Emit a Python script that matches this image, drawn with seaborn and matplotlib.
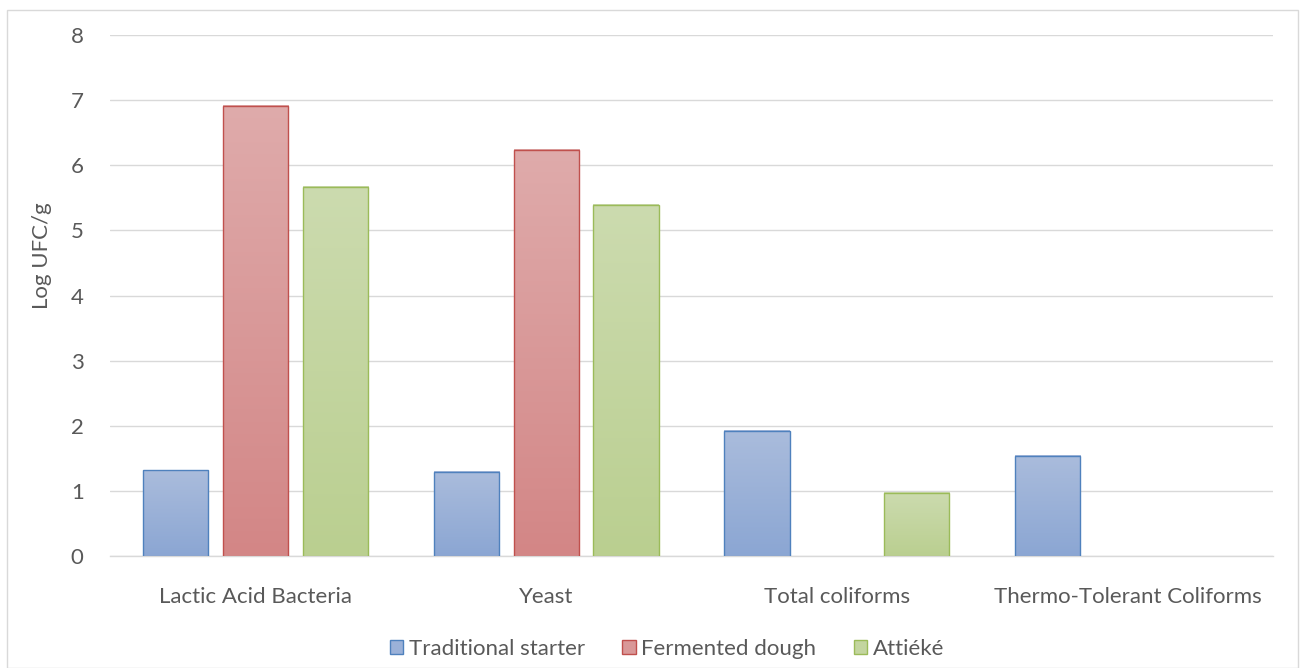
import numpy as np
import pandas as pd
import seaborn as sns
import matplotlib.pyplot as plt
from matplotlib.patches import Patch, Rectangle
from matplotlib.colors import LinearSegmentedColormap

categories = ["Lactic Acid Bacteria", "Yeast", "Total coliforms", "Thermo-Tolerant Coliforms"]
series = ["Traditional starter", "Fermented dough", "Attiéké"]
traditional_starter = [1.32, 1.29, 1.92, 1.54]
fermented_dough = [6.91, 6.24, 0.0, 0.0]
attieke = [5.67, 5.39, 0.97, 0.0]
y_ticks = [0, 1, 2, 3, 4, 5, 6, 7, 8]

top_colors = ["#aabcdc", "#dfabab", "#ccdbaf"]
bottom_colors = ["#8ba6d3", "#d38686", "#bacf90"]
mid_colors = ["#9bb1d8", "#d99898", "#c3d59f"]
edge_colors = ["#4f81bd", "#c0504d", "#9bbb59"]

rows = []
for name, vals in zip(series, [traditional_starter, fermented_dough, attieke]):
    for c, v in zip(categories, vals):
        rows.append({"category": c, "series": name, "value": v})
df = pd.DataFrame(rows)

sns.set_theme(style="white")
plt.rcParams['font.family'] = ['Lato', 'DejaVu Sans']
FS = 16

fig = plt.figure(figsize=(13.01, 6.68), dpi=100)
W, H = 1301, 668
ax = fig.add_axes([110 / W, (H - 556) / H, 1163 / W, 521 / H])

sns.barplot(data=df, x="category", y="value", hue="series", order=categories,
            hue_order=series, palette=mid_colors, width=0.825, gap=0.185,
            errorbar=None, legend=False, ax=ax)

grad = np.linspace(0, 1, 256).reshape(-1, 1)
for i, cont in enumerate(ax.containers):
    cmap = LinearSegmentedColormap.from_list(f"g{i}", [top_colors[i], bottom_colors[i]])
    for bar in cont:
        h = bar.get_height()
        if h <= 0:
            bar.set_visible(False)
            continue
        x0, w = bar.get_x(), bar.get_width()
        ax.imshow(grad, extent=[x0, x0 + w, 0, h], origin="upper", aspect="auto",
                  cmap=cmap, zorder=2, interpolation="bicubic")
        bar.set_facecolor("none")
        bar.set_edgecolor(edge_colors[i])
        bar.set_linewidth(1.0)
        bar.set_zorder(3)

ax.set_xlim(-0.5, 3.5)
ax.set_ylim(0, 8)
ax.set_yticks(y_ticks)
ax.yaxis.grid(True, color="#d9d9d9", linewidth=1.0)
ax.set_axisbelow(True)
for s in ["left", "right", "top"]:
    ax.spines[s].set_visible(False)
ax.spines["bottom"].set_color("#d9d9d9")
ax.spines["bottom"].set_linewidth(1.0)
ax.tick_params(axis="both", length=0, colors="#595959", labelsize=FS)
ax.tick_params(axis="y", pad=19)
ax.tick_params(axis="x", pad=22)
ax.set_xlabel("")
ax.set_ylabel("Log UFC/g", color="#595959", fontsize=FS)
ax.yaxis.set_label_coords(-0.05, 0.576)

handles = [Patch(facecolor=mid_colors[i], edgecolor=edge_colors[i], linewidth=1.0, label=series[i])
           for i in range(3)]
leg = fig.legend(handles=handles, loc="center", bbox_to_anchor=(667 / W, 19 / H), ncol=3,
                 frameon=False, fontsize=FS, handlelength=0.6, handleheight=0.6,
                 handletextpad=0.25, columnspacing=1.7, labelcolor="#595959")

fig.patches.append(Rectangle((7 / W, 0), 1291 / W, (H - 10) / H, transform=fig.transFigure,
                             fill=False, edgecolor="#d9d9d9", linewidth=1.0))

fig.savefig("out.png", dpi=100, facecolor="white")
